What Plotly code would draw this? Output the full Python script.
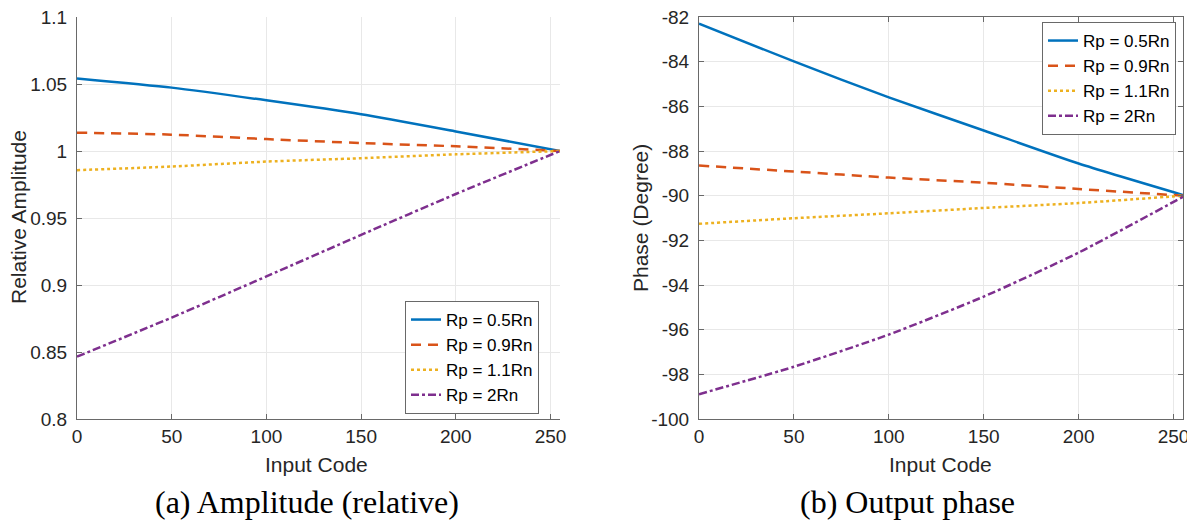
import plotly.graph_objects as go

# ---------------- data ----------------
input_code = [0, 50, 100, 150, 200, 255]

series_names = ["Rp = 0.5Rn", "Rp = 0.9Rn", "Rp = 1.1Rn", "Rp = 2Rn"]

amp_05 = [1.0542, 1.0473, 1.0378, 1.0274, 1.0146, 1.0000]
amp_09 = [1.0137, 1.0122, 1.0089, 1.0059, 1.0035, 1.0000]
amp_11 = [0.9857, 0.9884, 0.9921, 0.9946, 0.9975, 1.0000]
amp_2 = [0.8465, 0.8757, 0.9064, 0.9374, 0.9679, 1.0000]

phase_05 = [-82.30, -83.99, -85.60, -87.08, -88.56, -89.97]
phase_09 = [-88.65, -88.92, -89.19, -89.42, -89.70, -90.00]
phase_11 = [-91.26, -91.01, -90.79, -90.55, -90.33, -90.00]
phase_2 = [-98.89, -97.66, -96.22, -94.52, -92.55, -90.05]

x_ticks = [0, 50, 100, 150, 200, 250]
amp_ticks = [0.8, 0.85, 0.9, 0.95, 1.0, 1.05, 1.1]
amp_tick_text = ["0.8", "0.85", "0.9", "0.95", "1", "1.05", "1.1"]
phase_ticks = [-100, -98, -96, -94, -92, -90, -88, -86, -84, -82]
phase_tick_text = [str(v) for v in phase_ticks]

# ---------------- styles ----------------
colors = ["#0072BD", "#D95319", "#EDB120", "#7E2F8E"]
dashes = ["solid", "10px,7px", "3px,3px", "8px,3px,3px,3px"]
OFF = 8                      # page body margin
W, H = 1195 - OFF, 525 - OFF
SANS = "Liberation Sans, Arial, sans-serif"
SERIF = "Liberation Serif, Times New Roman, serif"
AX = "rgb(105,105,105)"
TXT = "rgb(38,38,38)"
GRID = "rgb(232,232,232)"


def px(x):
    return (x - OFF) / W


def py(y):
    return 1 - (y - OFF) / H


fig = go.Figure()

amp_series = [amp_05, amp_09, amp_11, amp_2]
phase_series = [phase_05, phase_09, phase_11, phase_2]

for name, ys, c, d in zip(series_names, amp_series, colors, dashes):
    fig.add_trace(go.Scatter(
        x=input_code, y=ys, mode="lines", name=name,
        line=dict(color=c, width=2.5, dash=d, shape="spline", smoothing=0.6),
        xaxis="x", yaxis="y", legend="legend"))

for name, ys, c, d in zip(series_names, phase_series, colors, dashes):
    fig.add_trace(go.Scatter(
        x=input_code, y=ys, mode="lines", name=name,
        line=dict(color=c, width=2.5, dash=d, shape="spline", smoothing=0.6),
        xaxis="x2", yaxis="y2", legend="legend2"))

y_dom = [py(419), py(17)]
common_x = dict(
    range=[0, 255], tickvals=x_ticks, ticks="inside", ticklen=5, tickcolor=AX,
    showline=True, linecolor=AX, linewidth=1, showgrid=True, gridcolor=GRID,
    gridwidth=1, zeroline=False, automargin=False, ticklabeloverflow="allow",
    tickfont=dict(family=SANS, size=19, color=TXT),
)
common_y = dict(
    ticks="inside", ticklen=5, tickcolor=AX, showline=True, linecolor=AX,
    linewidth=1, showgrid=True, gridcolor=GRID, gridwidth=1, zeroline=False,
    automargin=False, ticklabelstandoff=5, ticklabeloverflow="allow",
    tickfont=dict(family=SANS, size=19, color=TXT),
)

fig.update_layout(
    width=W, height=H,
    margin=dict(l=0, r=0, t=0, b=0, autoexpand=False),
    paper_bgcolor="white", plot_bgcolor="white",
    xaxis=dict(domain=[px(77), px(560)], anchor="y", **common_x),
    yaxis=dict(domain=y_dom, anchor="x", range=[0.8, 1.1],
               tickvals=amp_ticks, ticktext=amp_tick_text, **common_y),
    xaxis2=dict(domain=[px(699), px(1183)], anchor="y2", mirror="ticks", **common_x),
    yaxis2=dict(domain=y_dom, anchor="x2", range=[-100, -82], mirror="ticks",
                tickvals=phase_ticks, ticktext=phase_tick_text, **common_y),
    legend=dict(x=px(539), y=py(301), xanchor="right", yanchor="top",
                bgcolor="white", bordercolor=AX, borderwidth=1,
                font=dict(family=SANS, size=17, color="black"),
                itemwidth=30, tracegroupgap=0),
    legend2=dict(x=px(1176), y=py(22), xanchor="right", yanchor="top",
                 bgcolor="white", bordercolor=AX, borderwidth=1,
                 font=dict(family=SANS, size=17, color="black"),
                 itemwidth=30, tracegroupgap=0),
    showlegend=True,
)

annotations = [
    dict(text="Relative Amplitude", x=px(18), y=py(217), textangle=-90,
         font=dict(family=SANS, size=21, color=TXT)),
    dict(text="Phase (Degree)", x=px(641), y=py(218), textangle=-90,
         font=dict(family=SANS, size=21, color=TXT)),
    dict(text="Input Code", x=px(317), y=py(464),
         font=dict(family=SANS, size=21, color=TXT)),
    dict(text="Input Code", x=px(940), y=py(464),
         font=dict(family=SANS, size=21, color=TXT)),
    dict(text="(a) Amplitude (relative)", x=px(307), y=py(502),
         font=dict(family=SERIF, size=32, color="black")),
    dict(text="(b) Output phase", x=px(907), y=py(502),
         font=dict(family=SERIF, size=32, color="black")),
]
for a in annotations:
    a.update(xref="paper", yref="paper", showarrow=False,
             xanchor="center", yanchor="middle")
fig.update_layout(annotations=annotations)

fig.write_html("out.html")
